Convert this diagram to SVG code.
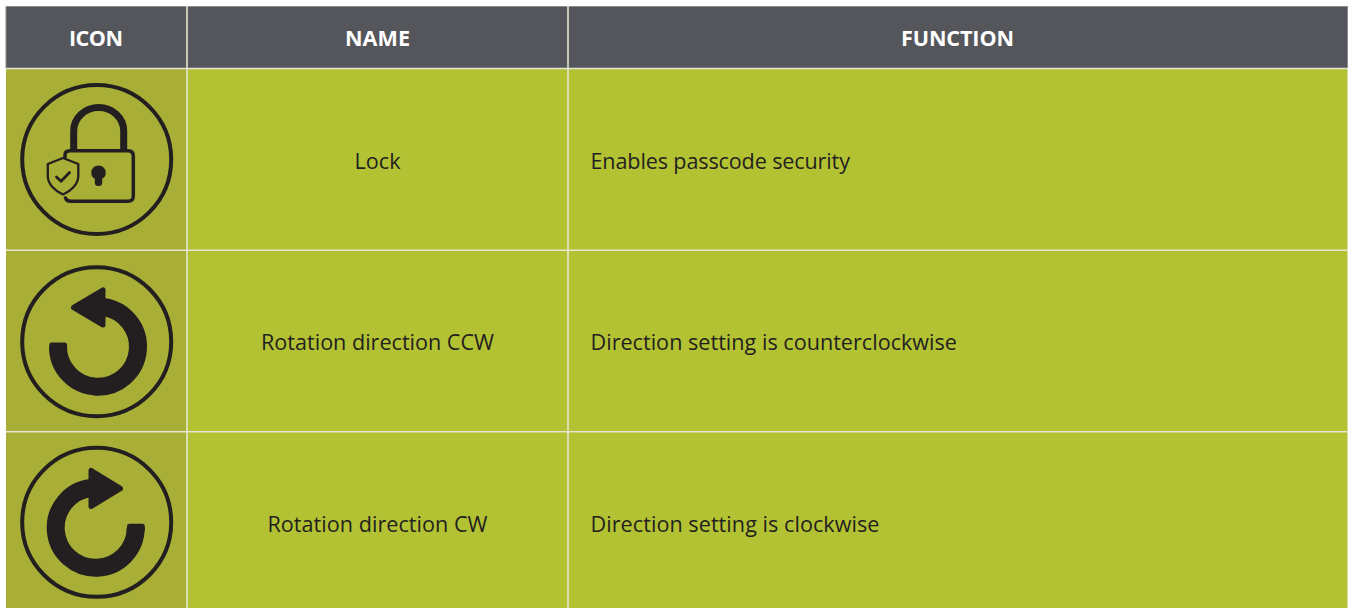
<svg xmlns="http://www.w3.org/2000/svg" width="1348" height="608" viewBox="0 0 1348 608">
<style>
.h{font:700 21.6px "Open Sans","Liberation Sans",sans-serif;fill:#fff;text-anchor:middle}
.t{font:400 21.6px "Open Sans","Liberation Sans",sans-serif;fill:#231f20}
.c{text-anchor:middle}
.ink{fill:none;stroke:#231f20}
.solid{fill:#231f20;stroke:#231f20;stroke-linejoin:round}
.rule{stroke:#e4e6d2;stroke-width:1.6;fill:none}
</style>
<rect x="0" y="0" width="1348" height="608" fill="#fff"/>
<g id="table">
<rect x="6" y="6.500" width="1341.500" height="62" fill="#54565b"/>
<rect x="6" y="69" width="1341.500" height="539" fill="#b3c233"/>
<rect x="6" y="69" width="180.500" height="539" fill="#a9ae37"/>
<path d="M6 6.500H1347.500M6 6.500V68.500M1347.500 6.500V68.500" fill="none" stroke="#8a8b8e" stroke-width="1"/>
<path class="rule" d="M187 6V608M568 6V608M6 68.500H1348M6 250.300H1348M6 431.800H1348"/>
</g>
<g id="header">
<text class="h" x="96" y="46" textLength="54">ICON</text>
<text class="h" x="377.500" y="46" textLength="65">NAME</text>
<text class="h" x="957.500" y="46" textLength="113">FUNCTION</text>
</g>
<g id="row-lock">
<g id="icon-lock">
<circle class="ink" cx="96.700" cy="159.500" r="74.500" stroke-width="4"/>
<path class="ink" stroke-width="7" d="M73.700 149V131A25 23.500 0 0 1 123.700 131V149"/>
<path class="ink" stroke-width="3.500" stroke-linecap="round" d="M65 157V155Q65 150.700 70 150.700H128Q133.300 150.700 133.300 156V196Q133.300 201.300 128 201.300H71Q66.500 201.300 65.500 198"/>
<path class="ink" stroke-width="2.300" stroke-linejoin="round" d="M63 158L78.300 164V176C78.300 184 71 191 63 194.500C55 191 47.800 184 47.800 176V164Z"/>
<path class="ink" stroke-width="2.800" stroke-linecap="round" stroke-linejoin="round" d="M56.500 177L61 181.300L69.500 172.500"/>
<circle cx="98.500" cy="172.700" r="7.300" fill="#231f20"/>
<rect x="94.800" y="174" width="7.400" height="12" rx="3.500" fill="#231f20"/>
</g>
<text class="t c" x="377.500" y="169" textLength="46">Lock</text>
<text class="t" x="590.500" y="169" textLength="259.500">Enables passcode security</text>
</g>
<g id="row-ccw">
<g id="icon-ccw">
<circle class="ink" cx="96.700" cy="341.700" r="74.500" stroke-width="4"/>
<path class="ink" stroke-width="18" d="M58 346.700A40 40 0 1 0 103 307"/>
<rect x="49.300" y="342.500" width="17.800" height="8" rx="2.500" fill="#231f20"/>
<path class="solid" stroke-width="5" d="M73.500 307.500L103 289.800V325Z"/>
</g>
<text class="t c" x="377.500" y="350" textLength="233">Rotation direction CCW</text>
<text class="t" x="590.500" y="350" textLength="366.500">Direction setting is counterclockwise</text>
</g>
<g id="row-cw">
<g id="icon-cw">
<circle class="ink" cx="96.700" cy="522.300" r="74.500" stroke-width="4"/>
<path class="ink" stroke-width="18" d="M135.700 527.700A40 40 0 1 1 91 488"/>
<rect x="127" y="523.800" width="17.800" height="8" rx="2.500" fill="#231f20"/>
<path class="solid" stroke-width="5" d="M120.500 488.500L91 470.500V506.500Z"/>
</g>
<text class="t c" x="377.500" y="532" textLength="220">Rotation direction CW</text>
<text class="t" x="590.500" y="532" textLength="289">Direction setting is clockwise</text>
</g>
</svg>
